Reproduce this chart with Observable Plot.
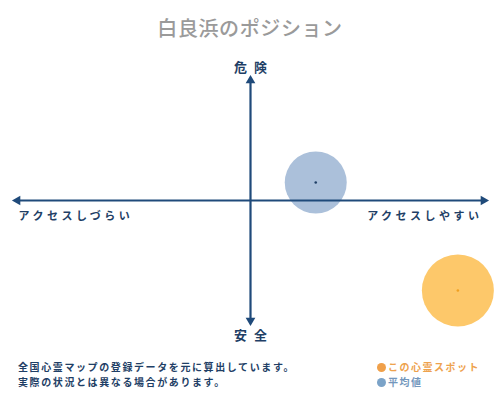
<!DOCTYPE html>
<html>
<head>
<meta charset="utf-8">
<script src="https://cdn.jsdelivr.net/npm/d3@7"></script>
<script src="https://cdn.jsdelivr.net/npm/@observablehq/plot@0.6"></script>
<style>
  html, body { margin: 0; padding: 0; background: #fff; }
  body { width: 500px; height: 400px; position: relative; overflow: hidden;
         font-family: "Noto Sans CJK JP", "Noto Sans", sans-serif; }
  #title { position: absolute; top: 14px; left: 0; width: 500px; text-align: center;
           font-size: 20px; color: #9a9a9a; letter-spacing: 0.6px; font-weight: 500; line-height: 28px; }
  #chart { position: absolute; top: 50px; left: 0; }
  #note { position: absolute; left: 18px; top: 359px; font-size: 10px; font-weight: 700;
          color: #1f3f66; letter-spacing: 1.6px; line-height: 15px; }
  #legend { position: absolute; left: 377px; top: 359px; font-size: 10px; font-weight: 700;
            letter-spacing: 1.5px; line-height: 15px; }
  .sw { display: inline-block; width: 9px; height: 9px; border-radius: 50%; margin-right: 2px; vertical-align: -1px; }
</style>
</head>
<body>
<div id="title"></div>
<div id="chart"></div>
<div id="note"></div>
<div id="legend"></div>
<script>
const title = "白良浜のポジション";
const axisTop = "危険";
const axisBottom = "安全";
const axisLeft = "アクセスしづらい";
const axisRight = "アクセスしやすい";
const notes = ["全国心霊マップの登録データを元に算出しています。", "実際の状況とは異なる場合があります。"];
const pointNames = ["この心霊スポット", "平均値"];
const accessX = [0.89, 0.28];   // -1 = hard to access, 1 = easy
const dangerY = [-0.75, 0.15];  // -1 = safe, 1 = dangerous
const pointFill = ["#fdc86a", "#abc0da"];
const centerFill = ["#f0a020", "#1f3f66"];
const legendText = ["#eea24e", "#7497bd"];
const legendDot = ["#f0a04a", "#7ba3c8"];

document.getElementById("title").textContent = title;
document.getElementById("note").innerHTML = notes.map(t => `<div>${t}</div>`).join("");
document.getElementById("legend").innerHTML = pointNames.map((n, i) =>
  `<div style="color:${legendText[i]}"><span class="sw" style="background:${legendDot[i]}"></span>${n}</div>`).join("");

const pts = pointNames.map((n, i) => ({name: n, x: accessX[i], y: dangerY[i], fill: pointFill[i], c: centerFill[i]}));
const axisEnds = [{x: 0, y: 1}, {x: 0, y: -1}, {x: -1, y: 0}, {x: 1, y: 0}];
const navy = "#1f4a7a";

const plot = Plot.plot({
  width: 500, height: 300,
  marginLeft: 17, marginRight: 17, marginTop: 30, marginBottom: 30,
  x: {domain: [-1, 1], axis: null},
  y: {domain: [-1, 1], axis: null},
  marks: [
    Plot.dot(pts.filter(d => d.name === pointNames[1]), {x: "x", y: "y", r: 31, fill: "fill", stroke: null}),
    Plot.dot(pts.filter(d => d.name === pointNames[0]), {x: "x", y: "y", r: 36, fill: "fill", stroke: null}),
    Plot.link([{x1: -1, y1: 0, x2: 1, y2: 0}, {x1: 0, y1: -1, x2: 0, y2: 1}],
      {x1: "x1", y1: "y1", x2: "x2", y2: "y2", stroke: navy, strokeWidth: 2.2}),
    Plot.dot(axisEnds, {x: "x", y: "y", symbol: "triangle", r: 3.6, fill: navy, stroke: null,
      rotate: d => d.y === 1 ? 0 : d.y === -1 ? 180 : d.x === -1 ? 270 : 90}),
    Plot.dot(pts, {x: "x", y: "y", r: 1.3, fill: "c", stroke: null}),
    Plot.text([axisTop], {x: 0, y: 1, text: d => d, dy: -13, fontSize: 13, fontWeight: 700, fill: "#1f3f66", fontFamily: "Noto Sans CJK JP"}),
    Plot.text([axisBottom], {x: 0, y: -1, text: d => d, dy: 15, fontSize: 13, fontWeight: 700, fill: "#1f3f66", fontFamily: "Noto Sans CJK JP"}),
    Plot.text([axisLeft], {x: -1, y: 0, text: d => d, dy: 16, dx: 1, textAnchor: "start", fontSize: 11, fontWeight: 700, fill: "#1f3f66", fontFamily: "Noto Sans CJK JP"}),
    Plot.text([axisRight], {x: 1, y: 0, text: d => d, dy: 16, dx: -1, textAnchor: "end", fontSize: 11, fontWeight: 700, fill: "#1f3f66", fontFamily: "Noto Sans CJK JP"})
  ]
});
const texts = plot.querySelectorAll('g[aria-label="text"]');
texts.forEach((g, i) => g.setAttribute("letter-spacing", i < 2 ? "7px" : "3.5px"));
// shift centered labels to compensate trailing letter-spacing
texts[0].setAttribute("transform", (texts[0].getAttribute("transform") || "") + " translate(3.5,0)");
texts[1].setAttribute("transform", (texts[1].getAttribute("transform") || "") + " translate(3.5,0)");
document.getElementById("chart").appendChild(plot);
</script>
</body>
</html>
